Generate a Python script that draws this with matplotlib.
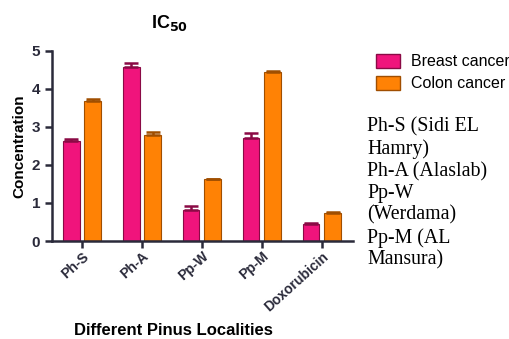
import numpy as np
import matplotlib
matplotlib.use("Agg")
import matplotlib.pyplot as plt
from matplotlib.patches import Patch

# data
categories = ["Ph-S", "Ph-A", "Pp-W", "Pp-M", "Doxorubicin"]
breast = [2.63, 4.58, 0.82, 2.72, 0.45]
breast_err = [0.05, 0.10, 0.10, 0.12, 0.03]
colon = [3.68, 2.80, 1.62, 4.45, 0.73]
colon_err = [0.06, 0.07, 0.02, 0.02, 0.04]
notes = "Ph-S (Sidi EL\nHamry)\nPh-A (Alaslab)\nPp-W\n(Werdama)\nPp-M (AL\nMansura)"

plt.rcParams["font.family"] = ["Liberation Sans", "DejaVu Sans"]
axis_col = "#2a2a3a"
pink, pink_edge = "#F0147C", "#8a0a45"
orange, orange_edge = "#FF8205", "#a04e00"

fig = plt.figure(figsize=(5.10, 3.39), dpi=100)
ax = fig.add_axes([0.102, 0.289, 0.59, 0.561])

x = np.arange(len(categories))
w = 0.28
zeros = [0] * len(categories)  # error bars point up only
ax.bar(x - 0.18, breast, w, yerr=[zeros, breast_err], color=pink, edgecolor=pink_edge, linewidth=0.8,
       error_kw=dict(ecolor=pink_edge, capsize=5, elinewidth=1.8, capthick=1.8), label="Breast cancer")
ax.bar(x + 0.18, colon, w, yerr=[zeros, colon_err], color=orange, edgecolor=orange_edge, linewidth=0.8,
       error_kw=dict(ecolor=orange_edge, capsize=5, elinewidth=1.8, capthick=1.8), label="Colon cancer")

ax.set_xlim(-0.5, 4.52)
ax.set_ylim(0, 5)
ax.set_yticks([0, 1, 2, 3, 4, 5])
ax.set_xticks(x)
ax.set_xticklabels(categories, rotation=42, ha="right", va="top", rotation_mode="anchor",
                   fontweight="bold", fontsize=10)
for lab in ax.get_yticklabels():
    lab.set_fontweight("bold")
    lab.set_fontsize(11)
for s in ["top", "right"]:
    ax.spines[s].set_visible(False)
for s in ["left", "bottom"]:
    ax.spines[s].set_color(axis_col)
    ax.spines[s].set_linewidth(1.8)
ax.tick_params(colors=axis_col, width=1.8, length=5, direction="out")
ax.tick_params(axis="x", pad=1)

ax.set_ylabel("Concentration", fontweight="bold", fontsize=11, labelpad=4)
fig.text(0.341, 0.024, "Different Pinus Localities", fontweight="bold", fontsize=12, ha="center", va="center")
fig.text(0.333, 0.932, r"IC$_{\mathbf{50}}$", fontweight="bold", fontsize=13, ha="center", va="center")

handles = [Patch(facecolor=pink, edgecolor=pink_edge), Patch(facecolor=orange, edgecolor=orange_edge)]
fig.legend(handles, ["Breast cancer", "Colon cancer"], loc="upper left", bbox_to_anchor=(0.725, 0.86),
           frameon=False, fontsize=11.5, handlelength=1.5, handleheight=1.0, handletextpad=0.7,
           labelspacing=0.4, borderaxespad=0)

fig.text(0.72, 0.655, notes, family=["Liberation Serif", "DejaVu Serif"], fontsize=14.3,
         ha="left", va="top", linespacing=1.2)

fig.savefig("out.png", dpi=100)
